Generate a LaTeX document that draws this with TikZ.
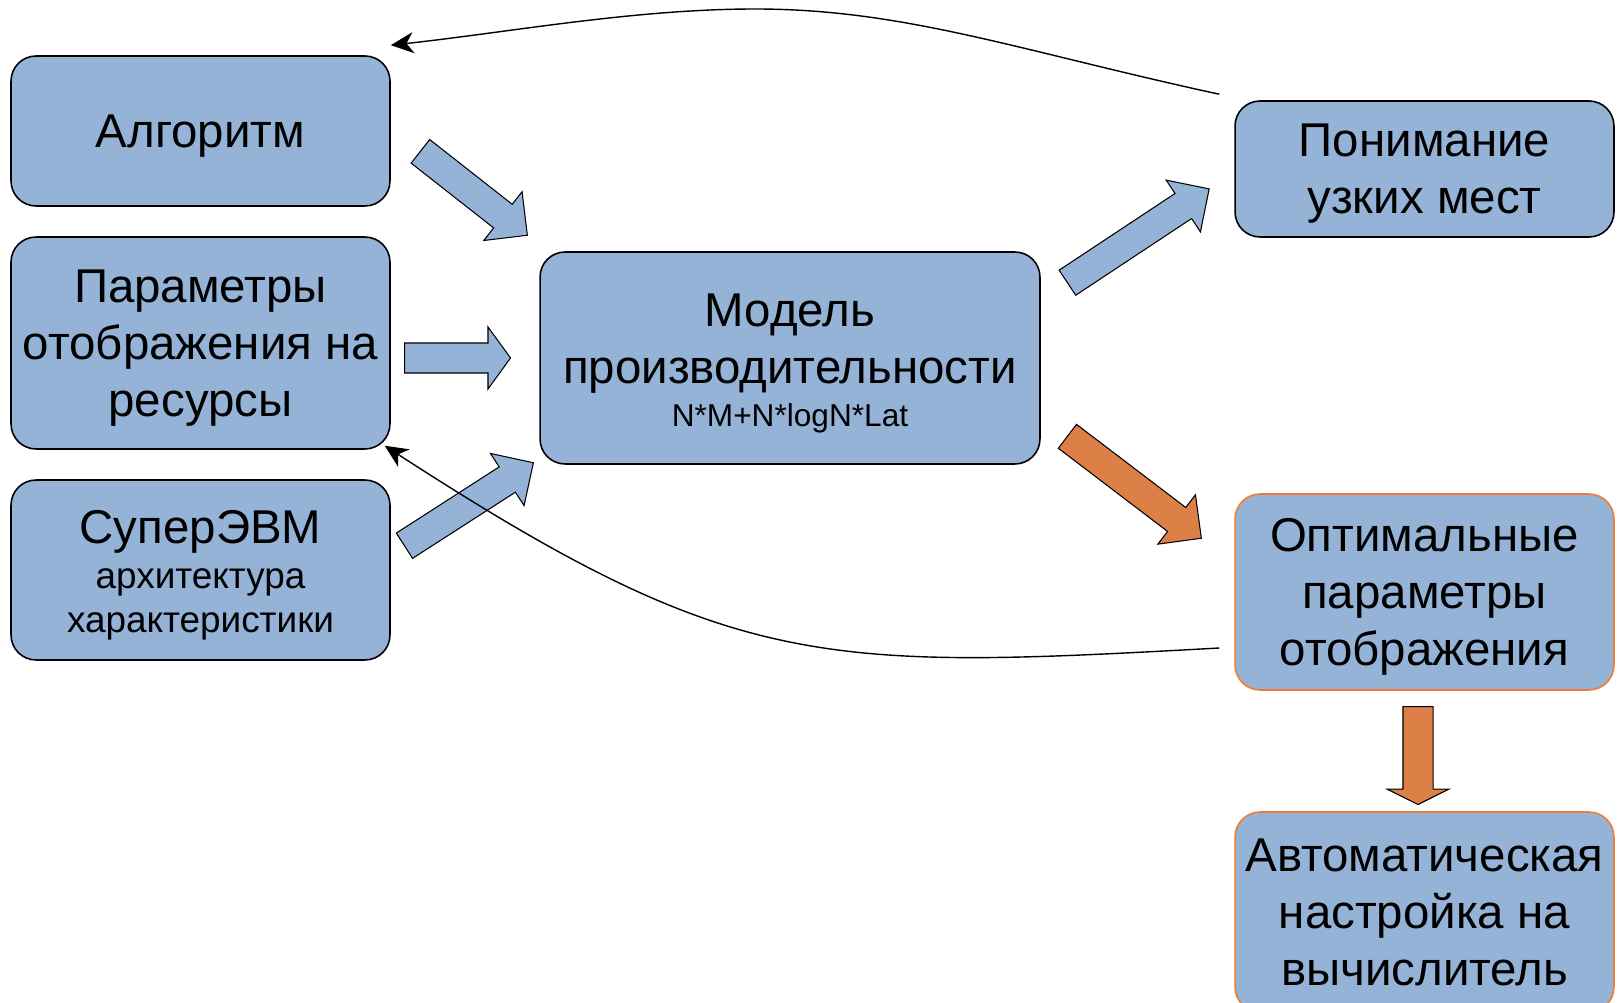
\documentclass[tikz,border=0pt]{standalone}
\usepackage{fontspec}
\setmainfont{Liberation Sans}
\usetikzlibrary{shapes.arrows,arrows.meta,calc}
\definecolor{boxblue}{RGB}{149,179,215}
\definecolor{fatorange}{RGB}{221,128,71}
\definecolor{edgeorange}{RGB}{237,125,49}
\newcommand\boxstrut{\rule[-0.2535em]{0pt}{1.2em}}

\begin{document}
\begin{tikzpicture}[x=0.02cm,y=-0.02cm,
  block/.style={draw=black,line width=0.9pt,fill=boxblue,rounded corners=0.5cm,
    align=center,inner sep=0pt,minimum width=7.58cm,
    font=\fontsize{27}{32.4}\selectfont},
  hotblock/.style={block,draw=edgeorange},
  fat/.style={single arrow,draw=black,line width=0.6pt,fill=boxblue,
    inner sep=0.29cm,single arrow head extend=0.32cm,anchor=tail},
  back/.style={-{Stealth[length=13pt,width=12pt,inset=4pt]},line width=0.8pt}]
\useasboundingbox (0,0) rectangle (1617,1003);

\node[block,minimum height=3cm] (algo) at (200.5,131) {\boxstrut Алгоритм};
\node[block,minimum height=4.24cm] (params) at (200.5,343) {\boxstrut Параметры\\отображения на\\\boxstrut ресурсы};
\node[block,minimum height=3.6cm] (super) at (200.5,570) {\boxstrut СуперЭВМ\\[-6.6pt]{\fontsize{21}{25}\selectfont архитектура}\\[-7.8pt]{\fontsize{21}{25}\selectfont\boxstrut характеристики}};
\node[block,minimum width=10cm,minimum height=4.24cm] (model) at (790,358) {\boxstrut Модель\\производительности\\[-8pt]{\fontsize{18}{21.6}\selectfont\boxstrut N*M+N*logN*Lat}};
\node[block,minimum height=2.72cm] (bottleneck) at (1424.5,169) {\boxstrut Понимание\\\boxstrut узких мест};
\node[hotblock,minimum height=3.92cm] (optimal) at (1424.5,592) {\boxstrut Оптимальные\\параметры\\\boxstrut отображения};
\node[hotblock,minimum height=4cm] (autotune) at (1424.5,912) {\boxstrut Автоматическая\\настройка на\\\boxstrut вычислитель};

\coordinate (t1) at (420,151); \coordinate (h1) at (527,235);
\coordinate (t2) at (404,358); \coordinate (h2) at (510,358);
\coordinate (t3) at (404,546); \coordinate (h3) at (533,463);
\coordinate (t4) at (1067,283); \coordinate (h4) at (1209,189);
\coordinate (t5) at (1067,436); \coordinate (h5) at (1201,538);
\coordinate (t6) at (1418,706); \coordinate (h6) at (1418,804);
\coordinate (top) at (755,9);

\path let \p1=($(h1)-(t1)$) in node[fat,single arrow tip angle=90,rotate={atan2(\y1,\x1)},minimum height={veclen(\x1,\y1)}] at (t1) {};
\path let \p1=($(h2)-(t2)$) in node[fat,single arrow tip angle=108,rotate={atan2(\y1,\x1)},minimum height={veclen(\x1,\y1)}] at (t2) {};
\path let \p1=($(h3)-(t3)$) in node[fat,single arrow tip angle=90,rotate={atan2(\y1,\x1)},minimum height={veclen(\x1,\y1)}] at (t3) {};
\path let \p1=($(h4)-(t4)$) in node[fat,single arrow tip angle=90,rotate={atan2(\y1,\x1)},minimum height={veclen(\x1,\y1)}] at (t4) {};
\path let \p1=($(h5)-(t5)$) in node[fat,fill=fatorange,single arrow tip angle=90,rotate={atan2(\y1,\x1)},minimum height={veclen(\x1,\y1)}] at (t5) {};
\path let \p1=($(h6)-(t6)$) in node[fat,fill=fatorange,single arrow tip angle=127,rotate={atan2(\y1,\x1)},minimum height={veclen(\x1,\y1)}] at (t6) {};

\draw[back] ([shift={(-15,-6)}]bottleneck.north west) .. controls (1020,51) and (905,9) .. (top) .. controls (635,9) and (511,32) .. ([shift={(0,-10)}]algo.north east);
\draw[back] ([shift={(-15,56)}]optimal.west) .. controls (820,670) and (734,672) .. ([shift={(-6,-4)}]params.south east);
\end{tikzpicture}
\end{document}
